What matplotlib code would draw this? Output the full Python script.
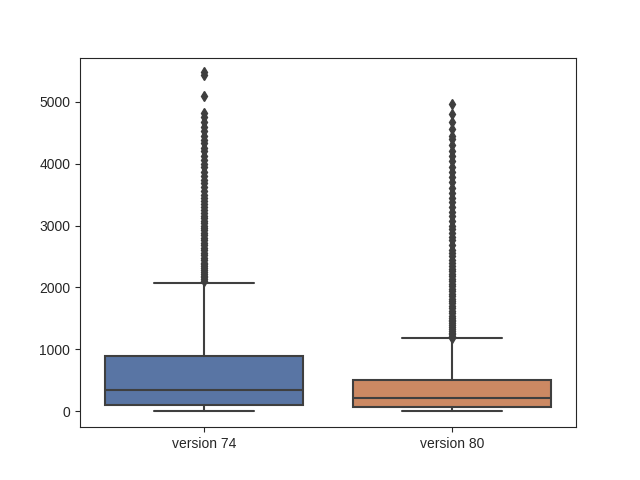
import matplotlib
matplotlib.use('Agg')
import matplotlib.pyplot as plt
import seaborn as sns

labels = ['version 74', 'version 80']
q1 = [97, 65]
med = [346, 211]
q3 = [893, 503]
whislo = [0, 5]
whishi = [2078, 1174]
fliers_74 = [2100, 2130, 2160, 2190, 2220, 2250, 2280, 2310, 2340, 2370, 2400, 2440,
             2480, 2520, 2560, 2600, 2640, 2680, 2720, 2760, 2800, 2840, 2880, 2920,
             2960, 3000, 3040, 3080, 3120, 3160, 3200, 3250, 3300, 3350, 3400, 3450,
             3500, 3560, 3620, 3680, 3740, 3800, 3870, 3940, 4000, 4060, 4120, 4200,
             4260, 4330, 4390, 4450, 4530, 4600, 4680, 4750, 4820, 5100, 5440, 5480]
fliers_80 = [1180, 1210, 1240, 1270, 1300, 1330, 1360, 1390, 1420, 1450, 1480, 1510,
             1540, 1580, 1620, 1660, 1700, 1740, 1780, 1820, 1860, 1900, 1940, 1980,
             2020, 2060, 2100, 2140, 2180, 2220, 2260, 2300, 2350, 2400, 2450, 2500,
             2550, 2600, 2680, 2760, 2820, 2880, 2940, 3000, 3080, 3150, 3220, 3300,
             3380, 3450, 3520, 3600, 3700, 3780, 3860, 3950, 4050, 4120, 4200, 4300,
             4400, 4450, 4560, 4680, 4800, 4970]
fliers = [fliers_74, fliers_80]
colors = ['#5975a4', '#cc8963']

sns.set_style('ticks')
plt.rcParams['font.family'] = ['Liberation Sans', 'DejaVu Sans']
gray = '#3f3f3f'

stats = []
for i in range(2):
  stats.append(dict(label=labels[i], q1=q1[i], med=med[i], q3=q3[i],
                    whislo=whislo[i], whishi=whishi[i], fliers=fliers[i]))

fig, ax = plt.subplots(figsize=(6.4, 4.8))
bp = ax.bxp(stats, positions=[0, 1], widths=0.8, capwidths=0.4, patch_artist=True,
            boxprops=dict(edgecolor=gray, linewidth=1.5),
            medianprops=dict(color=gray, linewidth=1.5),
            whiskerprops=dict(color=gray, linewidth=1.5),
            capprops=dict(color=gray, linewidth=1.5),
            flierprops=dict(marker='d', markerfacecolor=gray, markeredgecolor=gray,
                            markersize=5, linestyle='none'))
for patch, c in zip(bp['boxes'], colors):
  patch.set_facecolor(c)

ax.set_xlim(-0.5, 1.5)
ax.set_ylim(-260, 5714)
ax.set_xticks([0, 1])
ax.set_xticklabels(labels)

plt.savefig('out.png', dpi=100)
plt.close()
